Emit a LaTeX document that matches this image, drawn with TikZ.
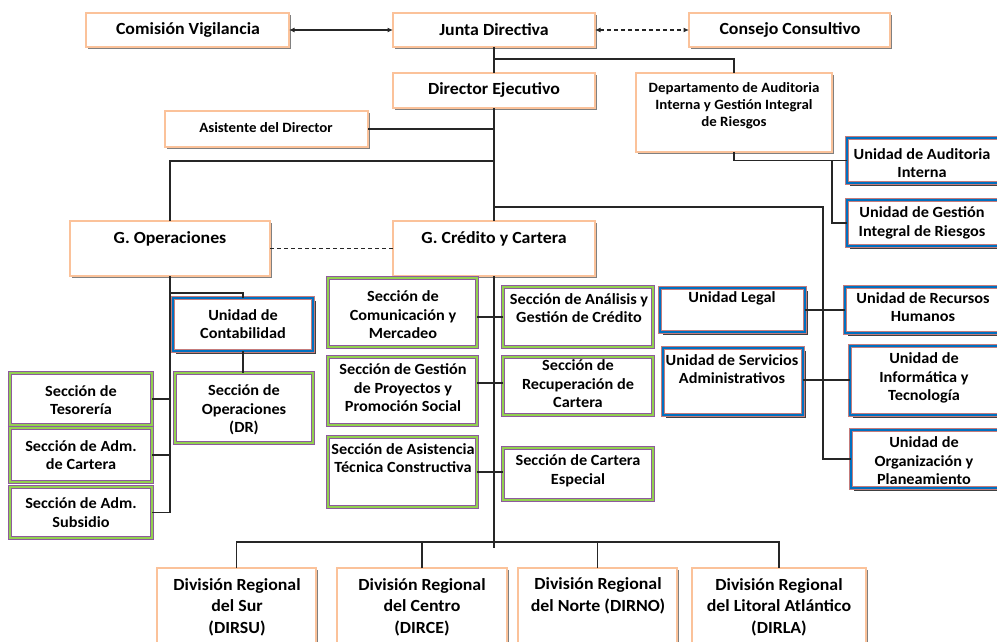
\documentclass[tikz,border=0pt]{standalone}
\usepackage{fontspec}
\setmainfont{Carlito}[FakeStretch=1.05]
\usetikzlibrary{shadows,arrows.meta}
\definecolor{orA}{HTML}{F79646}
\definecolor{orB}{HTML}{FBC29A}
\definecolor{bluA}{HTML}{0070C0}
\definecolor{bluL}{HTML}{C47B7B}
\definecolor{grnA}{HTML}{92D050}
\definecolor{grnL}{HTML}{8E5A9E}
\newcommand\mkbox[6]{\node[#2, minimum width={#5-#3}, minimum height={#6-#4}] (#1) at ({(#3+#5)/2},{(#4+#6)/2}) {};}
\tikzset{
  basebox/.style={rectangle, fill=white, inner sep=0pt, outer sep=0pt},
  orgbox/.style={basebox, draw=orA, line width=0.5pt, double=orB, double distance=1.6pt,
    drop shadow={shadow xshift=2.3pt, shadow yshift=-2.3pt, fill=black!50, opacity=1}},
  blubox/.style={basebox, draw=bluL, line width=0.5pt, double=bluA, double distance=2.8pt,
    drop shadow={shadow xshift=2.5pt, shadow yshift=-2.5pt, fill=black!75, opacity=1}},
  grnbox/.style={basebox, draw=grnL, line width=0.6pt, double=grnA, double distance=2.4pt,
    drop shadow={shadow xshift=2.3pt, shadow yshift=-2.3pt, fill=black!70, opacity=1}},
  txt/.style={inner sep=0pt, align=center, font={\bfseries\fontsize{15.5}{18.5}\selectfont}},
  txtT/.style={txt, font={\bfseries\fontsize{17}{19}\selectfont}},
  txtS/.style={txt, font={\bfseries\fontsize{14.2}{17}\selectfont}},
  txtG/.style={txt, font={\bfseries\fontsize{17}{19}\selectfont}},
  txtD/.style={txt, font={\bfseries\fontsize{17}{21.5}\selectfont}},
  conn/.style={draw=black!85, line width=1.1pt},
  arr/.style={conn, {Latex[length=5.5pt,width=5pt]}-{Latex[length=5.5pt,width=5pt]}},
}
\begin{document}
\begin{tikzpicture}[x=1pt,y=-1pt]
\useasboundingbox (0,0) rectangle (997,641);
% --- orange boxes
\mkbox{comision}{orgbox}{86}{13}{289}{47}
\mkbox{junta}{orgbox}{393}{13}{595}{47}
\mkbox{consejo}{orgbox}{689}{13}{890}{47}
\mkbox{director}{orgbox}{393}{73}{595}{108}
\mkbox{asist}{orgbox}{165}{111}{368}{147}
\mkbox{dept}{orgbox}{636}{73}{832}{152}
\mkbox{gop}{orgbox}{70}{221}{270}{276}
\mkbox{gcred}{orgbox}{393}{221}{595}{276}
\mkbox{dirsu}{orgbox}{157}{568}{316}{660}
\mkbox{dirce}{orgbox}{337}{568}{507}{660}
\mkbox{dirno}{orgbox}{518}{568}{677}{660}
\mkbox{dirla}{orgbox}{692}{568}{866}{660}
% --- blue boxes
\mkbox{uaud}{blubox}{847}{138}{999}{183}
\mkbox{ugir}{blubox}{847}{200}{999}{246}
\mkbox{ucont}{blubox}{173}{298}{313}{351}
\mkbox{ulegal}{blubox}{660}{288}{805}{332}
\mkbox{userv}{blubox}{663}{348}{803}{415}
\mkbox{urrhh}{blubox}{845}{287}{999}{333}
\mkbox{uinf}{blubox}{850}{346}{999}{415}
\mkbox{uorg}{blubox}{851}{430}{999}{488}
% --- green boxes
\mkbox{tesor}{grnbox}{10}{373}{152}{425}
\mkbox{admc}{grnbox}{10}{428}{152}{482}
\mkbox{subs}{grnbox}{10}{487}{152}{538}
\mkbox{secop}{grnbox}{175}{373}{313}{443}
\mkbox{com}{grnbox}{328}{278}{477}{347}
\mkbox{gproy}{grnbox}{328}{357}{477}{425}
\mkbox{atec}{grnbox}{328}{437}{477}{507}
\mkbox{anal}{grnbox}{503}{287}{653}{347}
\mkbox{recup}{grnbox}{503}{357}{653}{415}
\mkbox{cesp}{grnbox}{503}{448}{653}{500}
% --- texts
\node[txtT] (comision-t) at (188,30) {Comisión Vigilancia};
\node[txtT] (junta-t) at (494,30) {Junta Directiva};
\node[txtT] (consejo-t) at (790,30) {Consejo Consultivo};
\node[txtT] (director-t) at (494,90) {Director Ejecutivo};
\node[txtS] (asist-t) at (266,128) {Asistente del Director};
\node[txtS] (dept-t) at (734,106) {Departamento de Auditoria\\Interna y Gestión Integral\\de Riesgos};
\node[txtG] (gop-t) at (170,239) {G. Operaciones};
\node[txtG] (gcred-t) at (494,239) {G. Crédito y Cartera};
\node[txtD] (dirsu-t) at (237,607) {División Regional\\del Sur\\(DIRSU)};
\node[txtD] (dirce-t) at (422,607) {División Regional\\del Centro\\(DIRCE)};
\node[txtD] (dirno-t) at (598,596) {División Regional\\del Norte (DIRNO)};
\node[txtD] (dirla-t) at (779,607) {División Regional\\del Litoral Atlántico\\(DIRLA)};
\node[txt] (uaud-t) at (922,163) {Unidad de Auditoria\\Interna};
\node[txt] (ugir-t) at (922,223) {Unidad de Gestión\\Integral de Riesgos};
\node[txt] (ucont-t) at (243,324) {Unidad de\\Contabilidad};
\node[txt] (ulegal-t) at (732,298) {Unidad Legal};
\node[txt] (userv-t) at (732,369) {Unidad de Servicios\\Administrativos};
\node[txt] (urrhh-t) at (923,307) {Unidad de Recursos\\Humanos};
\node[txt] (uinf-t) at (924,378) {Unidad de\\Informática y\\Tecnología};
\node[txt] (uorg-t) at (924,461) {Unidad de\\Organización y\\Planeamiento};
\node[txt] (tesor-t) at (81,400) {Sección de\\Tesorería};
\node[txt] (admc-t) at (81,455) {Sección de Adm.\\de Cartera};
\node[txt] (subs-t) at (81,512.5) {Sección de Adm.\\Subsidio};
\node[txt] (secop-t) at (244,410) {Sección de\\Operaciones\\(DR)};
\node[txt] (com-t) at (403,315) {Sección de\\Comunicación y\\Mercadeo};
\node[txt] (gproy-t) at (403,388) {Sección de Gestión\\de Proyectos y\\Promoción Social};
\node[txt] (atec-t) at (403,458) {Sección de Asistencia\\Técnica Constructiva};
\node[txt] (anal-t) at (579,308) {Sección de Análisis y\\Gestión de Crédito};
\node[txt] (recup-t) at (578,384) {Sección de\\Recuperación de\\Cartera};
\node[txt] (cesp-t) at (578,471) {Sección de Cartera\\Especial};
% --- connectors
\draw[arr] (comision.east) -- (junta.west);
\draw[arr, dashed, dash pattern=on 4pt off 3pt] (junta.east) -- (consejo.west);
\draw[conn] (junta.south) -- (director.north);
\draw[conn] (junta.south) ++(0,12) -| (dept.north);
\draw[conn] (asist.east) -- (asist.east -| director.south);
\draw[conn] (director.south) -- (gcred.north);
\coordinate (trunkL) at ([yshift=-53pt]director.south);
\draw[conn] (trunkL) -| (gop.north);
\coordinate (trunkR) at ([yshift=-99pt]director.south);
\coordinate (busR) at ([xshift=-28pt]uorg.west);
\draw[conn] (trunkR) -| (busR) -- (uorg.west);
\draw[conn] (dept.south) |- (uaud.west);
\coordinate (audbus) at ([xshift=-15pt]uaud.west);
\draw[conn] (audbus) |- (ugir.west);
\draw[conn, dashed, dash pattern=on 4pt off 3pt] (gop.east) -- (gcred.west);
\draw[conn] (gop.south) |- (subs.east);
\draw[conn] (tesor.east) -- (tesor.east -| gop.south);
\draw[conn] (admc.east) -- (admc.east -| gop.south);
\draw[conn] ([yshift=-17pt]gop.south) -| (ucont.north);
\draw[conn] (ucont.south) -- (ucont.south |- secop.north);
\draw[conn] (gcred.south) -- ++(0,272);
\draw[conn] (anal.west) -- (anal.west -| com.east);
\draw[conn] ([yshift=3pt]recup.west) -- ([yshift=3pt]recup.west -| gproy.east);
\draw[conn] (atec.east) -- (atec.east -| cesp.west);
\draw[conn] (ulegal.east) -- (ulegal.east -| urrhh.west);
\draw[conn] ([yshift=1.5pt]userv.east) -- ([yshift=1.5pt]userv.east -| uinf.west);
\draw[conn] (dirsu.north) -- ++(0,-26) -| (dirla.north);
\draw[conn] (dirce.north) -- ++(0,-26);
\draw[conn] (dirno.north) -- ++(0,-26);
\end{tikzpicture}
\end{document}
